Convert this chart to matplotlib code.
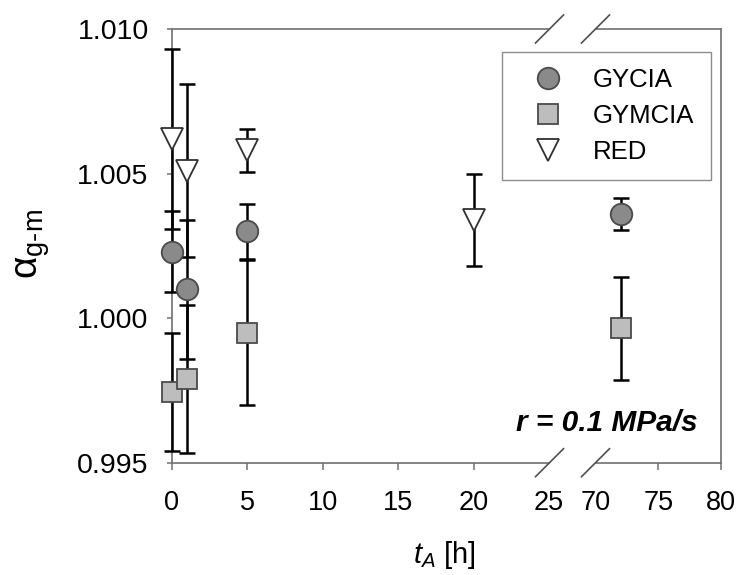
import numpy as np
import matplotlib
matplotlib.use('Agg')
import matplotlib.pyplot as plt
from matplotlib.lines import Line2D

plt.rcParams['font.family'] = ['Liberation Sans', 'DejaVu Sans']
plt.rcParams['mathtext.fontset'] = 'custom'
plt.rcParams['mathtext.rm'] = 'Liberation Sans'
plt.rcParams['mathtext.it'] = 'Liberation Sans:italic'

# 数据
series = ['GYCIA', 'GYMCIA', 'RED']
x_gycia = [0, 1, 5, 72]
y_gycia = [1.0023, 1.0010, 1.0030, 1.0036]
e_gycia = [0.0014, 0.0024, 0.00095, 0.00055]

x_gymcia = [0, 1, 5, 72]
y_gymcia = [0.99745, 0.9979, 0.9995, 0.99965]
e_gymcia = [0.00204, 0.00255, 0.0025, 0.00178]

x_red = [0, 1, 5, 20]
y_red = [1.0062, 1.0051, 1.0058, 1.0034]
e_red = [0.0031, 0.0030, 0.00073, 0.0016]

styles = {
    'GYCIA': dict(marker='o', ms=15.5, mfc='#8a8a8a', mec='#4a4a4a'),
    'GYMCIA': dict(marker='s', ms=14, mfc='#bdbdbd', mec='#4a4a4a'),
    'RED': dict(marker='v', ms=16, mfc='white', mec='#303030'),
}
data = {
    'GYCIA': (x_gycia, y_gycia, e_gycia),
    'GYMCIA': (x_gymcia, y_gymcia, e_gymcia),
    'RED': (x_red, y_red, e_red),
}

fig = plt.figure(figsize=(7.39, 5.75), dpi=100)
H = 575.0
W = 739.0
bot = 1 - 462.7 / H
top = 1 - 29 / H
ax1 = fig.add_axes([171.7 / W, bot, (549 - 171.7) / W, top - bot])
ax2 = fig.add_axes([596 / W, bot, (720.7 - 596) / W, top - bot])

spine_c = '#707070'
for ax, (lo, hi) in [(ax1, (0, 25)), (ax2, (70, 80))]:
    for name in series:
        xs, ys, es = [np.array(v) for v in data[name]]
        m = (xs >= lo) & (xs <= hi)
        if not m.any():
            continue
        ax.errorbar(xs[m], ys[m], yerr=es[m], fmt='none', ecolor='black',
                    elinewidth=1.8, capsize=6, capthick=1.8, clip_on=False, zorder=3)
        ax.plot(xs[m], ys[m], linestyle='none', markeredgewidth=1.3,
                clip_on=False, zorder=4, **styles[name])
    ax.set_xlim(lo, hi)
    ax.set_ylim(0.995, 1.010)
    for s in ax.spines.values():
        s.set_color(spine_c)
        s.set_linewidth(1.2)
    ax.tick_params(axis='x', direction='out', length=5, width=1.1, color=spine_c,
                   labelsize=19.5, pad=15)
    ax.tick_params(axis='y', direction='out', length=3.6, width=1.1, color=spine_c,
                   labelsize=20.5, pad=13)

ax1.set_xticks([0, 5, 10, 15, 20, 25])
ax1.xaxis.get_major_ticks()[-1].tick1line.set_visible(False)
ax1.set_yticks([0.995, 1.000, 1.005, 1.010])
ax1.set_yticklabels(['0.995', '1.000', '1.005', '1.010'])
ax1.spines['right'].set_visible(False)

ax2.set_xticks([70, 75, 80])
ax2.xaxis.get_major_ticks()[0].tick1line.set_visible(False)
ax2.set_yticks([])
ax2.spines['left'].set_visible(False)

# 断轴标记
for xp in [549.5, 595.5]:
    for yp in [29, 462.7]:
        fig.add_artist(Line2D([(xp - 14) / W, (xp + 14) / W],
                              [1 - (yp + 14) / H, 1 - (yp - 14) / H],
                              color='#505050', lw=1.2))

handles = [Line2D([], [], linestyle='none', markeredgewidth=1.3, **styles[n]) for n in series]
fig.legend(handles, series, loc='upper right', bbox_to_anchor=(710.7 / W, 1 - 51.7 / H),
           fontsize=18.5, frameon=True, fancybox=False, edgecolor=spine_c,
           borderpad=0.65, labelspacing=0.45, handlelength=2.26, handletextpad=0.62,
           borderaxespad=0)

fig.text(698 / W, 1 - 423 / H, 'r = 0.1 MPa/s', ha='right', va='center',
         fontsize=21.5, fontweight='bold', fontstyle='italic')

fig.text(33 / W, 1 - 244 / H, r'$\mathrm{\alpha}_{\mathrm{g\text{-}m}}$', rotation=90,
         ha='center', va='center', fontsize=28)
fig.text(444 / W, 1 - 563 / H, r'$t_A$ [h]', ha='center', va='baseline', fontsize=21)

plt.savefig('out.png', dpi=100)
